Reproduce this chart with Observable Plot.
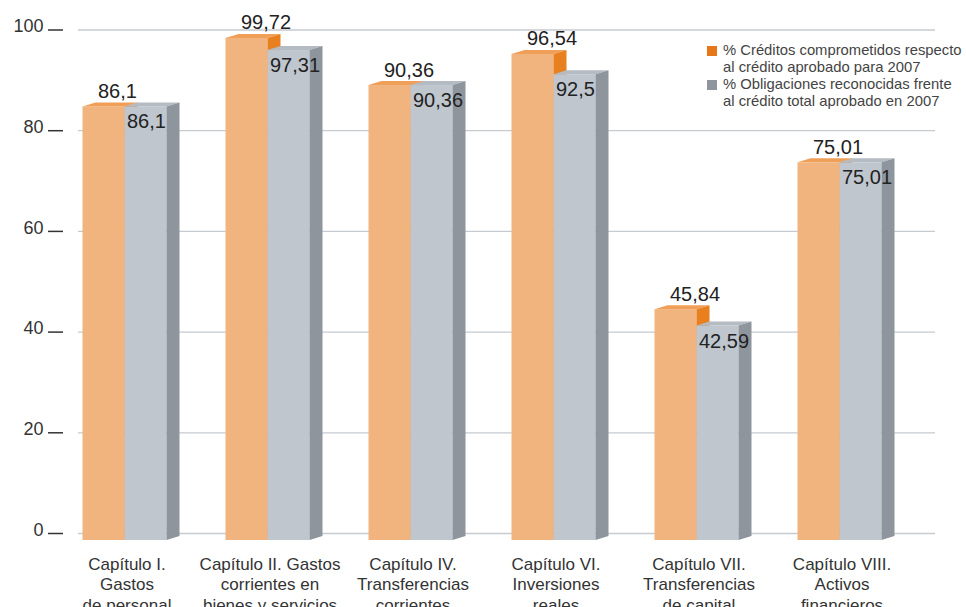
<!DOCTYPE html>
<html>
<head>
<meta charset="utf-8">
<script src="https://cdn.jsdelivr.net/npm/d3@7"></script>
<script src="https://cdn.jsdelivr.net/npm/@observablehq/plot@0.6"></script>
<style>
  html, body { margin: 0; padding: 0; background: #fff; }
  #wrap { position: relative; width: 966px; height: 607px; overflow: hidden; font-family: "Liberation Sans", Arial, sans-serif; }
  .leg { position: absolute; font-size: 14.8px; line-height: 16.5px; color: #444; white-space: nowrap; }
  .sw { position: absolute; width: 10px; height: 10px; }
</style>
</head>
<body>
<div id="wrap"></div>
<script>
const categories = [
  "Capítulo I.\nGastos\nde personal",
  "Capítulo II. Gastos\ncorrientes en\nbienes y servicios",
  "Capítulo IV.\nTransferencias\ncorrientes",
  "Capítulo VI.\nInversiones\nreales",
  "Capítulo VII.\nTransferencias\nde capital",
  "Capítulo VIII.\nActivos\nfinancieros"
];
const creditos = [86.1, 99.72, 90.36, 96.54, 45.84, 75.01];
const obligaciones = [86.1, 97.31, 90.36, 92.5, 42.59, 75.01];
const yTicks = [0, 20, 40, 60, 80, 100];
const seriesNames = [
  "% Créditos comprometidos respecto\nal crédito aprobado para 2007",
  "% Obligaciones reconocidas frente\nal crédito total aprobado en 2007"
];

const fmt = v => String(v).replace(".", ",");
const orangeData = categories.map((c, i) => ({cat: c, v: creditos[i]}));
const greyData = categories.map((c, i) => ({cat: c, v: obligaciones[i]}));

const BW = 42, HALF = 71.5, DEPTHX = 13, DEPTHY = 4, DROP = 7;

// 3D top and side faces drawn from the plot's own scales
function faces(data, leftOffset, topColor, sideColor) {
  return (index, scales) => {
    const g = d3.create("svg:g");
    const bwRaw = scales.x.bandwidth;
    const bw = typeof bwRaw === "function" ? bwRaw() : bwRaw;
    const half = Number.isFinite(bw) && bw > 0 ? bw / 2 : HALF;
    for (const d of data) {
      const xL = scales.x(d.cat) + half + leftOffset;
      const xR = xL + BW;
      const yT = scales.y(d.v) + DROP;
      const yB = scales.y(0) + DROP;
      g.append("polygon")
        .attr("points", [[xL, yT], [xR, yT], [xR + DEPTHX, yT - DEPTHY], [xL + DEPTHX, yT - DEPTHY]].map(p => p.join(",")).join(" "))
        .attr("fill", topColor);
      g.append("polygon")
        .attr("points", [[xR, yT], [xR + DEPTHX, yT - DEPTHY], [xR + DEPTHX, yB - DEPTHY], [xR, yB]].map(p => p.join(",")).join(" "))
        .attr("fill", sideColor);
    }
    return g.node();
  };
}

const plot = Plot.plot({
  width: 966,
  height: 607,
  marginLeft: 78,
  marginRight: 31,
  marginTop: 29.5,
  marginBottom: 74,
  style: {fontFamily: "'Liberation Sans', Arial, sans-serif", background: "transparent", overflow: "visible"},
  x: {type: "band", domain: categories, range: [52.5, 910.5], padding: 0, axis: null},
  y: {domain: [0, 100], axis: null},
  marks: [
    Plot.ruleY(yTicks, {stroke: "#c6cbd1", strokeWidth: 1.3}),
    Plot.axisY({ticks: yTicks, tickSize: 15, dx: -15, tickFormat: () => "", color: "#333", stroke: "#333", strokeWidth: 1.5, strokeOpacity: 1, label: null}),
    Plot.axisY({ticks: yTicks, tickSize: 0, dx: -30, dy: -3.5, tickPadding: 5, fontSize: 18, color: "#333", label: null}),
    Plot.barY(orangeData, {x: "cat", y: "v", fill: "#f2b47f", insetLeft: HALF - BW, insetRight: HALF, dy: DROP}),
    faces(orangeData, -BW, "#f09f59", "#e8801f"),
    Plot.barY(greyData, {x: "cat", y: "v", fill: "#bfc6ce", insetLeft: HALF, insetRight: HALF - BW, dy: DROP}),
    faces(greyData, 0, "#b4bbc3", "#8e959c"),
    Plot.text(orangeData, {x: "cat", y: "v", text: d => fmt(d.v), textAnchor: "start", lineAnchor: "bottom", dx: -27, dy: -2, fontSize: 20, fill: "#222"}),
    Plot.text(greyData, {x: "cat", y: "v", text: d => fmt(d.v), textAnchor: "start", lineAnchor: "bottom", dx: 2, dy: 28.5, fontSize: 20, fill: "#222"}),
    Plot.text(categories, {x: d => d, frameAnchor: "bottom", text: d => d, lineAnchor: "top", dy: 22, dx: 2, fontSize: 17, lineHeight: 1.2, fill: "#333"})
  ]
});

const wrap = document.getElementById("wrap");
wrap.appendChild(plot);

const legendColors = ["#e8761b", "#8e959c"];
const legendTops = [42, 76];
seriesNames.forEach((name, i) => {
  const sw = document.createElement("div");
  sw.className = "sw";
  sw.style.left = "707px";
  sw.style.top = (legendTops[i] + 4) + "px";
  sw.style.background = legendColors[i];
  wrap.appendChild(sw);
  const t = document.createElement("div");
  t.className = "leg";
  t.style.left = "723px";
  t.style.top = legendTops[i] + "px";
  t.innerHTML = name.split("\n").join("<br>");
  wrap.appendChild(t);
});
</script>
</body>
</html>
